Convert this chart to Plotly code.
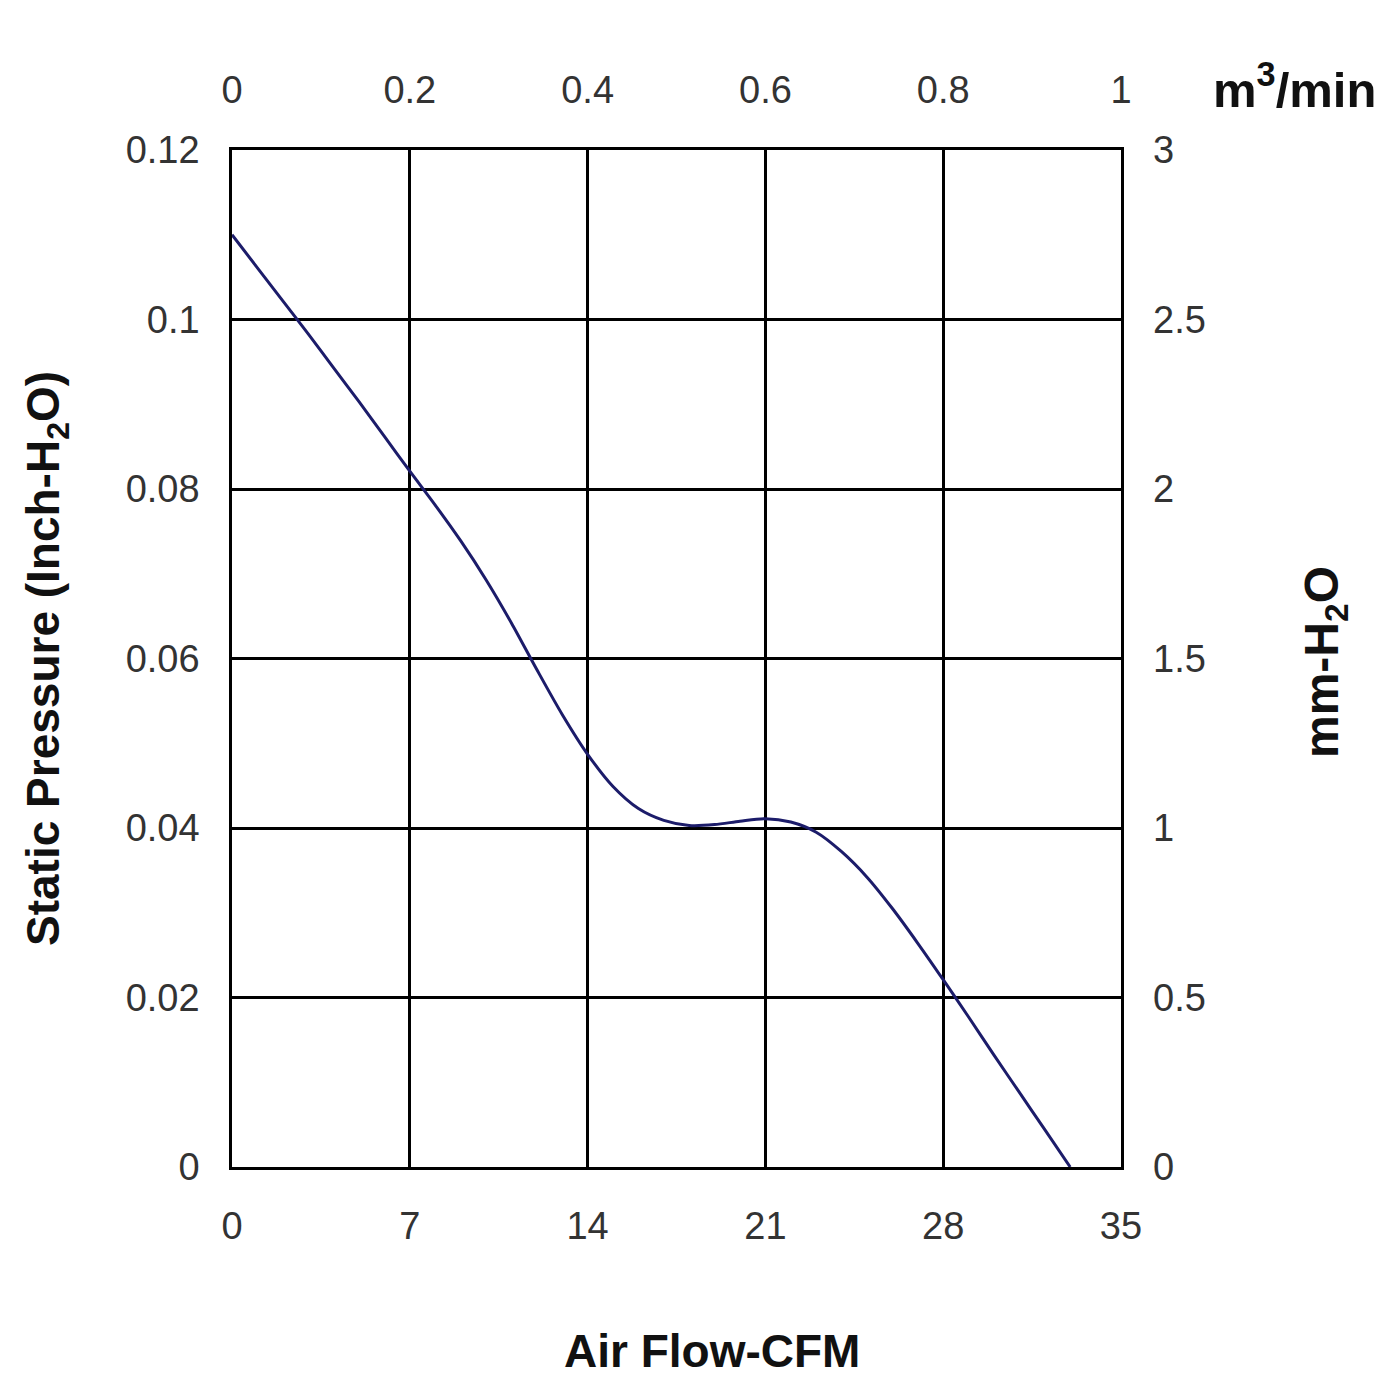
import plotly.graph_objects as go

# Air flow (CFM) and static pressure (inch H2O)
airflow_cfm = [0, 1, 2, 3, 4, 5, 6, 7, 8, 9, 10, 11, 12, 13, 14, 15, 16, 17, 18, 19,
               20, 21, 22, 23, 24, 25, 26, 27, 28, 29, 30, 31, 32, 33]
pressure_inch = [0.1100, 0.1061, 0.1022, 0.0983, 0.0943, 0.0903, 0.0862, 0.0821,
                 0.0781, 0.0739, 0.0693, 0.0642, 0.0587, 0.0534, 0.0487, 0.0449,
                 0.0423, 0.0409, 0.0403, 0.0404, 0.0408, 0.0411, 0.0407, 0.0395,
                 0.0372, 0.0342, 0.0305, 0.0264, 0.0221, 0.0177, 0.0132, 0.0088,
                 0.0044, 0.0000]

x_ticks_cfm = [0, 7, 14, 21, 28, 35]
y_ticks_inch = [0, 0.02, 0.04, 0.06, 0.08, 0.1, 0.12]
x_ticks_m3 = [0, 0.2, 0.4, 0.6, 0.8, 1]
y_ticks_mm = [0, 0.5, 1, 1.5, 2, 2.5, 3]

FONT = "Liberation Sans, Arial, sans-serif"
W, H = 1400, 1400
L, R, T, B = 232, 1121, 150, 1167
pw, ph = R - L, B - T

fig = go.Figure()
fig.add_trace(go.Scatter(
    x=airflow_cfm, y=pressure_inch, mode="lines",
    line=dict(color="#1c1c6a", width=3, shape="spline", smoothing=0.8),
    showlegend=False, hoverinfo="skip"))

tickfont = dict(family=FONT, size=38, color="#333333")
common = dict(showgrid=True, gridcolor="#000000", gridwidth=2.5, zeroline=False,
              showline=True, linecolor="#000000", linewidth=2.5, ticks="",
              tickfont=tickfont)

fig.update_layout(
    width=W, height=H,
    margin=dict(l=L, r=W - R, t=T, b=H - B, pad=0),
    paper_bgcolor="white", plot_bgcolor="white",
    xaxis=dict(range=[0, 35], tickvals=x_ticks_cfm, ticktext=[str(v) for v in x_ticks_cfm],
               mirror=True, ticklabelstandoff=24, **common),
    yaxis=dict(range=[0, 0.12], tickvals=y_ticks_inch,
               ticktext=[("%g" % v) for v in y_ticks_inch],
               mirror=True, ticklabelstandoff=22, **common),
    xaxis2=dict(range=[0, 1], tickvals=x_ticks_m3, ticktext=[("%g" % v) for v in x_ticks_m3],
                overlaying="x", side="top", showgrid=False, zeroline=False,
                showline=False, ticks="", tickfont=tickfont, ticklabelstandoff=38),
    yaxis2=dict(range=[0, 3], tickvals=y_ticks_mm, ticktext=[("%g" % v) for v in y_ticks_mm],
                overlaying="y", side="right", showgrid=False, zeroline=False,
                showline=False, ticks="", tickfont=tickfont, ticklabelstandoff=31),
)

fig.add_trace(go.Scatter(x=[None], y=[None], xaxis="x2", yaxis="y2",
                         showlegend=False, hoverinfo="skip"))


def px_to_paper(px, py):
    return (px - L) / pw, (B - py) / ph


annots = [
    ("<b>Static Pressure (Inch-H<sub>2</sub>O)</b>", 46, 659, -90, 46),
    ("<b>mm-H<sub>2</sub>O</b>", 1325, 662, -90, 48),
    ("<b>Air Flow-CFM</b>", 712, 1351, 0, 46),
    ("<b>m<sup>3</sup>/min</b>", 1294, 86, 0, 49),
]
for text, ax_, ay_, ang, fs in annots:
    xp, yp = px_to_paper(ax_, ay_)
    fig.add_annotation(text=text, x=xp, y=yp, xref="paper", yref="paper",
                       xanchor="center", yanchor="middle", showarrow=False,
                       textangle=ang, font=dict(family=FONT, size=fs, color="#111111"))

fig.write_html("out.html")
